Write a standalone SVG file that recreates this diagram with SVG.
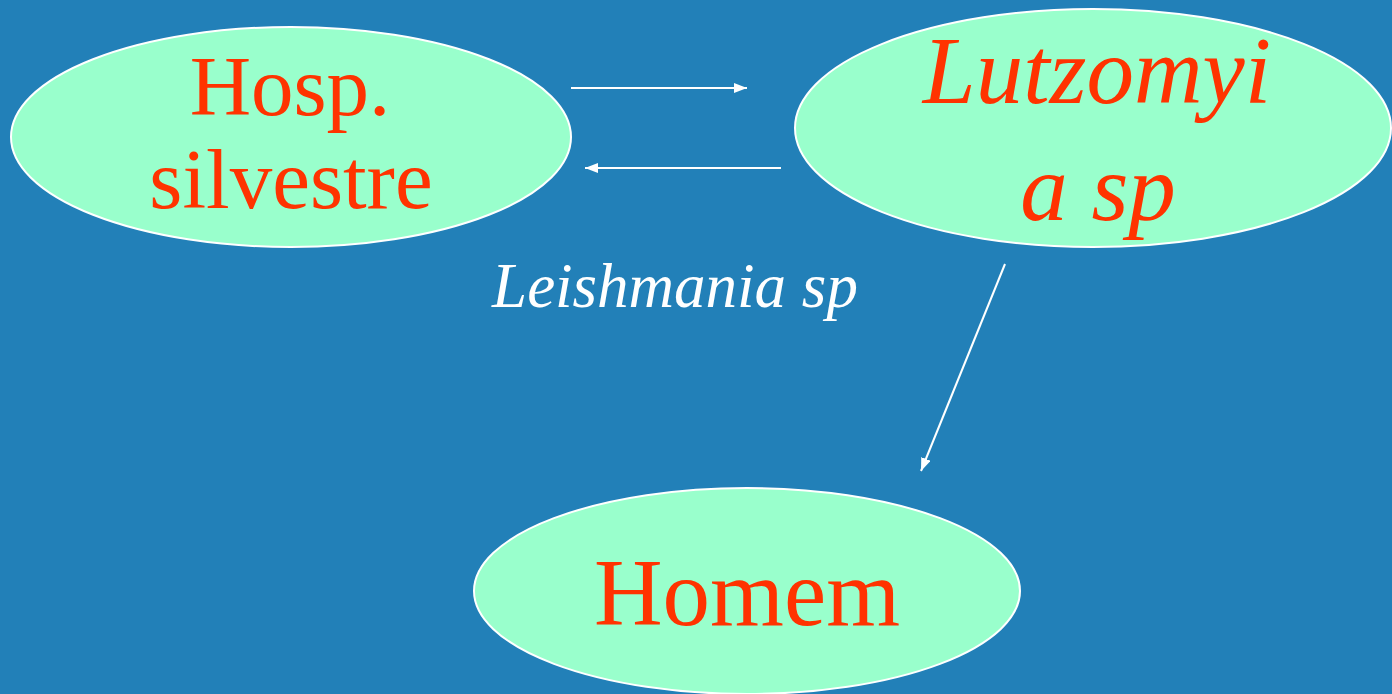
<svg xmlns="http://www.w3.org/2000/svg" width="1392" height="694" viewBox="0 0 1392 694">
<style>
.node{fill:#99ffcc;stroke:#ffffff;stroke-width:2}
.lbl{font-family:"Liberation Serif","Times New Roman",serif;fill:#ff3300;text-anchor:middle}
.it{font-style:italic}
.edge{stroke:#ffffff;stroke-width:2;fill:none;marker-end:url(#ah)}
</style>
<defs>
<marker id="ah" viewBox="0 0 10 10" refX="10" refY="5" markerWidth="13" markerHeight="10" markerUnits="userSpaceOnUse" orient="auto" preserveAspectRatio="none">
<path d="M0,0 L10,5 L0,10 z" fill="#ffffff"/>
</marker>
</defs>
<rect width="1392" height="694" fill="#2280b8"/>
<g id="node-hosp">
<ellipse class="node" cx="291" cy="137" rx="280" ry="110"/>
<text class="lbl" x="290" y="115" font-size="85">Hosp.</text>
<text class="lbl" x="291" y="208" font-size="85">silvestre</text>
</g>
<g id="node-lutzomyia">
<ellipse class="node" cx="1093" cy="128" rx="298" ry="119"/>
<text class="lbl it" x="1097" y="103" font-size="95">Lutzomyi</text>
<text class="lbl it" x="1098" y="220" font-size="95">a sp</text>
</g>
<g id="node-homem">
<ellipse class="node" cx="747" cy="591" rx="273" ry="103"/>
<text class="lbl" x="747" y="625" font-size="95">Homem</text>
</g>
<g id="connectors">
<line class="edge" x1="571" y1="88" x2="747" y2="88"/>
<line class="edge" x1="781" y1="168" x2="585" y2="168"/>
<line class="edge" x1="1005" y1="264" x2="921" y2="471"/>
</g>
<text x="675" y="307" font-size="63" font-family="'Liberation Serif','Times New Roman',serif" font-style="italic" fill="#ffffff" text-anchor="middle">Leishmania sp</text>
</svg>
